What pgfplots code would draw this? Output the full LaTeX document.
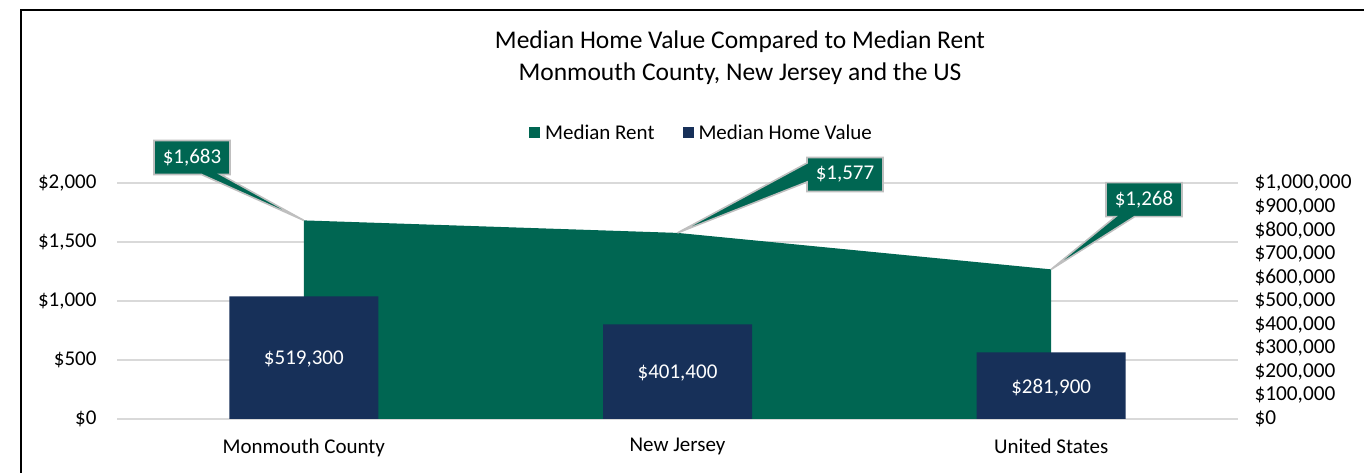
\documentclass[border=0pt]{standalone}
\usepackage{pgfplots}
\pgfplotsset{compat=1.18}
\usepackage{fontspec}
\setmainfont{Carlito}
\usetikzlibrary{shapes.callouts}
\definecolor{rentgreen}{RGB}{0,102,82}
\definecolor{homenavy}{RGB}{23,48,89}
\definecolor{gridgray}{RGB}{217,217,217}
\definecolor{calloutgray}{RGB}{191,191,191}
\newcommand{\basefont}{\fontsize{21bp}{25bp}\selectfont}
\newcommand{\rightfont}{\fontsize{21.3bp}{24bp}\selectfont}
\begin{document}
\begin{tikzpicture}[x=1bp,y=1bp]
\path[use as bounding box] (0,0) rectangle (1364,473);
\draw[line width=2.2bp] (20.7,-5) -- (20.7,463) -- (1370,463);
\node[font=\fontsize{25.5bp}{32bp}\selectfont, align=center] at (740,415.5) {Median Home Value Compared to Median Rent\\Monmouth County, New Jersey and the US};
\begin{axis}[
  at={(117bp,54bp)}, anchor=south west, scale only axis,
  width=1121bp, height=236bp,
  xmin=0, xmax=3, ymin=0, ymax=2000,
  clip=false,
  axis line style={draw=none},
  major tick length=0pt,
  ytick={0,500,1000,1500,2000},
  yticklabel={\$\pgfmathprintnumber{\tick}},
  /pgf/number format/.cd, fixed, 1000 sep={,}, assume math mode=true,
  /pgfplots/.cd,
  scaled y ticks=false,
  xtick={0.5,1.5,2.5},
  xticklabels={Monmouth County, New Jersey, United States},
  ymajorgrids, grid style={gridgray, line width=2bp},
  tick label style={font=\basefont, text=black},
  yticklabel style={xshift=-17bp},
  xticklabel style={yshift=-16bp},
  legend style={at={(0.5214,1.2119)}, anchor=center, draw=none, fill=none,
    legend columns=2, font=\basefont,
    /tikz/every even column/.append style={column sep=26bp}},
  legend image code/.code={\fill[#1] (0bp,-5.5bp) rectangle (11bp,5.5bp); \path[draw=none, fill=none] (0bp,-1bp) rectangle (14bp,1bp);},
]
\addlegendimage{fill=rentgreen, draw=none}
\addlegendentry{Median Rent}
\addlegendimage{fill=homenavy, draw=none}
\addlegendentry{Median Home Value}
\addplot[fill=rentgreen, draw=none, forget plot] coordinates {(0.5,1683) (1.5,1577) (2.5,1268)} \closedcycle;
\coordinate (p1) at (axis cs:0.5,1683);
\coordinate (p2) at (axis cs:1.5,1577);
\coordinate (p3) at (axis cs:2.5,1268);
\end{axis}
\begin{axis}[
  at={(117bp,54bp)}, anchor=south west, scale only axis,
  width=1121bp, height=236bp,
  xmin=0, xmax=3, ymin=0, ymax=1000000,
  clip=false,
  axis y line*=right, hide x axis,
  axis line style={draw=none},
  major tick length=0pt,
  ytick={0,100000,...,1000000},
  yticklabel={\$\pgfmathprintnumber{\tick}},
  /pgf/number format/.cd, fixed, 1000 sep={,}, assume math mode=true,
  /pgfplots/.cd,
  scaled y ticks=false,
  tick label style={font=\rightfont, text=black},
  yticklabel style={xshift=13bp},
]
\addplot[ybar, bar width=149bp, fill=homenavy, draw=none] coordinates {(0.5,519300) (1.5,401400) (2.5,281900)};
\addplot[draw=none, mark=none, nodes near coords, point meta=explicit symbolic,
  y filter/.expression={y/2},
  every node near coord/.append style={anchor=center, text=white, font=\basefont, yshift=-1.5bp}]
  coordinates {(0.5,519300) [\$519,300] (1.5,401400) [\$401,400] (2.5,281900) [\$281,900]};
\end{axis}
\tikzset{co/.style={rectangle callout, fill=rentgreen, draw=calloutgray, line width=1.6bp,
  text=white, font=\basefont, minimum width=76bp, minimum height=34bp, inner sep=0pt,
  callout pointer width=19bp}}
\node[co, callout absolute pointer={(p1)}] at (192,315.5) {\$1,683};
\node[co, callout absolute pointer={(p2)}] at (845,298.5) {\$1,577};
\node[co, callout absolute pointer={(p3)}] at (1144,273.3) {\$1,268};
\end{tikzpicture}
\end{document}
